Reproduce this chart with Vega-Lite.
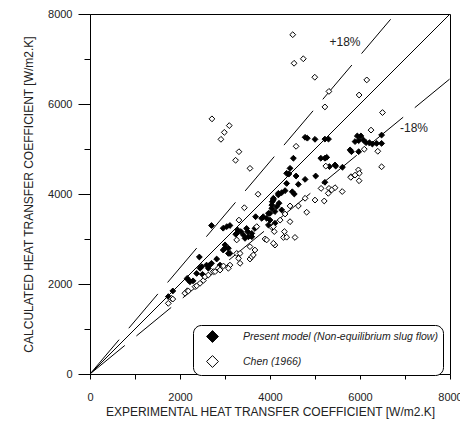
{
"$schema":"https://vega.github.io/schema/vega-lite/v6.json",
"width":360,"height":360,
"autosize":{"type":"none"},
"padding":{"left":90,"top":14,"right":10,"bottom":47},
"background":"white",
"config":{
 "font":"Liberation Sans",
 "view":{"stroke":"black","strokeWidth":1},
 "axis":{"domainColor":"black","tickColor":"black","labelColor":"#222","titleColor":"#222","labelFontSize":11,"titleFontSize":12,"titleFontWeight":"normal","grid":false,"labelFont":"Liberation Sans","titleFont":"Liberation Sans","labelFlush":false,"labelOverlap":false}
},
"datasets":{
 "lines":[
  {"x":0,"y":0,"k":"eq"},{"x":8000,"y":8000,"k":"eq"},
  {"x":0,"y":0,"k":"p18"},{"x":6780,"y":8000,"k":"p18"},
  {"x":0,"y":0,"k":"m18"},{"x":8000,"y":6560,"k":"m18"}
 ],
 "notes":[
  {"x":5667,"y":7378,"t":"+18%"},
  {"x":7200,"y":5467,"t":"-18%"}
 ],
 "pts":[
  {"x":1740,"y":1720,"s":"Present model (Non-equilibrium slug flow)"},
  {"x":1840,"y":1845,"s":"Present model (Non-equilibrium slug flow)"},
  {"x":2160,"y":2125,"s":"Present model (Non-equilibrium slug flow)"},
  {"x":2185,"y":2090,"s":"Present model (Non-equilibrium slug flow)"},
  {"x":2220,"y":2050,"s":"Present model (Non-equilibrium slug flow)"},
  {"x":2290,"y":2070,"s":"Present model (Non-equilibrium slug flow)"},
  {"x":2370,"y":2235,"s":"Present model (Non-equilibrium slug flow)"},
  {"x":2430,"y":2600,"s":"Present model (Non-equilibrium slug flow)"},
  {"x":2445,"y":2350,"s":"Present model (Non-equilibrium slug flow)"},
  {"x":2480,"y":2385,"s":"Present model (Non-equilibrium slug flow)"},
  {"x":2500,"y":2215,"s":"Present model (Non-equilibrium slug flow)"},
  {"x":2590,"y":2420,"s":"Present model (Non-equilibrium slug flow)"},
  {"x":2630,"y":2350,"s":"Present model (Non-equilibrium slug flow)"},
  {"x":2660,"y":2420,"s":"Present model (Non-equilibrium slug flow)"},
  {"x":2700,"y":2460,"s":"Present model (Non-equilibrium slug flow)"},
  {"x":2815,"y":2555,"s":"Present model (Non-equilibrium slug flow)"},
  {"x":2890,"y":2420,"s":"Present model (Non-equilibrium slug flow)"},
  {"x":2960,"y":2755,"s":"Present model (Non-equilibrium slug flow)"},
  {"x":3000,"y":2870,"s":"Present model (Non-equilibrium slug flow)"},
  {"x":3000,"y":2795,"s":"Present model (Non-equilibrium slug flow)"},
  {"x":3075,"y":2795,"s":"Present model (Non-equilibrium slug flow)"},
  {"x":3075,"y":2680,"s":"Present model (Non-equilibrium slug flow)"},
  {"x":3110,"y":2680,"s":"Present model (Non-equilibrium slug flow)"},
  {"x":2700,"y":3300,"s":"Present model (Non-equilibrium slug flow)"},
  {"x":2960,"y":3240,"s":"Present model (Non-equilibrium slug flow)"},
  {"x":3040,"y":3275,"s":"Present model (Non-equilibrium slug flow)"},
  {"x":3110,"y":3300,"s":"Present model (Non-equilibrium slug flow)"},
  {"x":3240,"y":3105,"s":"Present model (Non-equilibrium slug flow)"},
  {"x":3260,"y":3125,"s":"Present model (Non-equilibrium slug flow)"},
  {"x":3280,"y":3200,"s":"Present model (Non-equilibrium slug flow)"},
  {"x":3355,"y":3165,"s":"Present model (Non-equilibrium slug flow)"},
  {"x":3410,"y":3090,"s":"Present model (Non-equilibrium slug flow)"},
  {"x":3445,"y":3015,"s":"Present model (Non-equilibrium slug flow)"},
  {"x":3480,"y":3235,"s":"Present model (Non-equilibrium slug flow)"},
  {"x":3505,"y":3165,"s":"Present model (Non-equilibrium slug flow)"},
  {"x":3520,"y":3050,"s":"Present model (Non-equilibrium slug flow)"},
  {"x":3595,"y":3125,"s":"Present model (Non-equilibrium slug flow)"},
  {"x":3595,"y":3050,"s":"Present model (Non-equilibrium slug flow)"},
  {"x":3665,"y":3235,"s":"Present model (Non-equilibrium slug flow)"},
  {"x":3680,"y":3495,"s":"Present model (Non-equilibrium slug flow)"},
  {"x":3815,"y":3460,"s":"Present model (Non-equilibrium slug flow)"},
  {"x":3850,"y":3495,"s":"Present model (Non-equilibrium slug flow)"},
  {"x":3925,"y":3460,"s":"Present model (Non-equilibrium slug flow)"},
  {"x":3965,"y":3310,"s":"Present model (Non-equilibrium slug flow)"},
  {"x":4000,"y":3420,"s":"Present model (Non-equilibrium slug flow)"},
  {"x":3965,"y":3570,"s":"Present model (Non-equilibrium slug flow)"},
  {"x":4000,"y":3570,"s":"Present model (Non-equilibrium slug flow)"},
  {"x":4040,"y":3680,"s":"Present model (Non-equilibrium slug flow)"},
  {"x":4110,"y":3350,"s":"Present model (Non-equilibrium slug flow)"},
  {"x":4110,"y":3610,"s":"Present model (Non-equilibrium slug flow)"},
  {"x":4150,"y":3720,"s":"Present model (Non-equilibrium slug flow)"},
  {"x":4040,"y":3755,"s":"Present model (Non-equilibrium slug flow)"},
  {"x":4075,"y":3870,"s":"Present model (Non-equilibrium slug flow)"},
  {"x":4200,"y":3795,"s":"Present model (Non-equilibrium slug flow)"},
  {"x":4260,"y":3645,"s":"Present model (Non-equilibrium slug flow)"},
  {"x":4050,"y":3830,"s":"Present model (Non-equilibrium slug flow)"},
  {"x":4075,"y":3905,"s":"Present model (Non-equilibrium slug flow)"},
  {"x":4185,"y":3980,"s":"Present model (Non-equilibrium slug flow)"},
  {"x":4185,"y":4015,"s":"Present model (Non-equilibrium slug flow)"},
  {"x":4260,"y":4030,"s":"Present model (Non-equilibrium slug flow)"},
  {"x":4335,"y":4075,"s":"Present model (Non-equilibrium slug flow)"},
  {"x":4495,"y":4050,"s":"Present model (Non-equilibrium slug flow)"},
  {"x":4540,"y":4000,"s":"Present model (Non-equilibrium slug flow)"},
  {"x":4370,"y":4235,"s":"Present model (Non-equilibrium slug flow)"},
  {"x":4630,"y":4215,"s":"Present model (Non-equilibrium slug flow)"},
  {"x":4370,"y":4460,"s":"Present model (Non-equilibrium slug flow)"},
  {"x":4420,"y":4445,"s":"Present model (Non-equilibrium slug flow)"},
  {"x":4580,"y":4400,"s":"Present model (Non-equilibrium slug flow)"},
  {"x":4445,"y":4570,"s":"Present model (Non-equilibrium slug flow)"},
  {"x":4780,"y":4325,"s":"Present model (Non-equilibrium slug flow)"},
  {"x":5015,"y":4400,"s":"Present model (Non-equilibrium slug flow)"},
  {"x":5220,"y":4260,"s":"Present model (Non-equilibrium slug flow)"},
  {"x":4520,"y":4795,"s":"Present model (Non-equilibrium slug flow)"},
  {"x":4780,"y":5260,"s":"Present model (Non-equilibrium slug flow)"},
  {"x":4830,"y":5240,"s":"Present model (Non-equilibrium slug flow)"},
  {"x":5000,"y":5215,"s":"Present model (Non-equilibrium slug flow)"},
  {"x":5220,"y":5220,"s":"Present model (Non-equilibrium slug flow)"},
  {"x":5300,"y":5220,"s":"Present model (Non-equilibrium slug flow)"},
  {"x":5130,"y":4795,"s":"Present model (Non-equilibrium slug flow)"},
  {"x":5220,"y":4795,"s":"Present model (Non-equilibrium slug flow)"},
  {"x":5260,"y":4815,"s":"Present model (Non-equilibrium slug flow)"},
  {"x":5320,"y":4610,"s":"Present model (Non-equilibrium slug flow)"},
  {"x":5460,"y":4620,"s":"Present model (Non-equilibrium slug flow)"},
  {"x":5610,"y":4595,"s":"Present model (Non-equilibrium slug flow)"},
  {"x":5445,"y":4645,"s":"Present model (Non-equilibrium slug flow)"},
  {"x":5780,"y":4980,"s":"Present model (Non-equilibrium slug flow)"},
  {"x":5810,"y":4940,"s":"Present model (Non-equilibrium slug flow)"},
  {"x":5970,"y":4940,"s":"Present model (Non-equilibrium slug flow)"},
  {"x":5890,"y":5165,"s":"Present model (Non-equilibrium slug flow)"},
  {"x":5940,"y":5290,"s":"Present model (Non-equilibrium slug flow)"},
  {"x":6020,"y":5290,"s":"Present model (Non-equilibrium slug flow)"},
  {"x":5970,"y":5185,"s":"Present model (Non-equilibrium slug flow)"},
  {"x":6075,"y":5200,"s":"Present model (Non-equilibrium slug flow)"},
  {"x":6135,"y":5140,"s":"Present model (Non-equilibrium slug flow)"},
  {"x":6210,"y":5140,"s":"Present model (Non-equilibrium slug flow)"},
  {"x":6275,"y":5110,"s":"Present model (Non-equilibrium slug flow)"},
  {"x":6370,"y":5125,"s":"Present model (Non-equilibrium slug flow)"},
  {"x":6480,"y":5125,"s":"Present model (Non-equilibrium slug flow)"},
  {"x":6480,"y":5310,"s":"Present model (Non-equilibrium slug flow)"},
  {"x":1740,"y":1570,"s":"Chen (1966)"},
  {"x":1815,"y":1680,"s":"Chen (1966)"},
  {"x":1840,"y":1665,"s":"Chen (1966)"},
  {"x":2110,"y":1795,"s":"Chen (1966)"},
  {"x":2165,"y":1850,"s":"Chen (1966)"},
  {"x":2185,"y":1845,"s":"Chen (1966)"},
  {"x":2335,"y":1940,"s":"Chen (1966)"},
  {"x":2370,"y":1960,"s":"Chen (1966)"},
  {"x":2445,"y":2015,"s":"Chen (1966)"},
  {"x":2520,"y":2080,"s":"Chen (1966)"},
  {"x":2555,"y":2160,"s":"Chen (1966)"},
  {"x":2630,"y":2200,"s":"Chen (1966)"},
  {"x":2740,"y":2275,"s":"Chen (1966)"},
  {"x":2780,"y":2275,"s":"Chen (1966)"},
  {"x":2850,"y":2350,"s":"Chen (1966)"},
  {"x":2890,"y":2310,"s":"Chen (1966)"},
  {"x":2965,"y":2400,"s":"Chen (1966)"},
  {"x":3075,"y":2385,"s":"Chen (1966)"},
  {"x":3110,"y":2420,"s":"Chen (1966)"},
  {"x":3075,"y":2350,"s":"Chen (1966)"},
  {"x":3260,"y":2680,"s":"Chen (1966)"},
  {"x":3300,"y":2570,"s":"Chen (1966)"},
  {"x":3335,"y":2460,"s":"Chen (1966)"},
  {"x":3335,"y":2680,"s":"Chen (1966)"},
  {"x":3555,"y":2555,"s":"Chen (1966)"},
  {"x":3595,"y":2605,"s":"Chen (1966)"},
  {"x":3630,"y":2645,"s":"Chen (1966)"},
  {"x":3555,"y":2830,"s":"Chen (1966)"},
  {"x":3665,"y":2755,"s":"Chen (1966)"},
  {"x":3705,"y":3275,"s":"Chen (1966)"},
  {"x":3260,"y":2980,"s":"Chen (1966)"},
  {"x":3310,"y":3420,"s":"Chen (1966)"},
  {"x":3430,"y":3695,"s":"Chen (1966)"},
  {"x":3735,"y":3995,"s":"Chen (1966)"},
  {"x":3890,"y":3000,"s":"Chen (1966)"},
  {"x":3925,"y":2980,"s":"Chen (1966)"},
  {"x":4040,"y":3260,"s":"Chen (1966)"},
  {"x":4075,"y":3275,"s":"Chen (1966)"},
  {"x":4110,"y":2865,"s":"Chen (1966)"},
  {"x":4075,"y":2905,"s":"Chen (1966)"},
  {"x":4095,"y":3165,"s":"Chen (1966)"},
  {"x":4300,"y":3035,"s":"Chen (1966)"},
  {"x":4370,"y":3040,"s":"Chen (1966)"},
  {"x":4555,"y":3035,"s":"Chen (1966)"},
  {"x":4320,"y":3165,"s":"Chen (1966)"},
  {"x":4225,"y":3420,"s":"Chen (1966)"},
  {"x":4445,"y":3385,"s":"Chen (1966)"},
  {"x":4335,"y":3555,"s":"Chen (1966)"},
  {"x":4445,"y":3735,"s":"Chen (1966)"},
  {"x":4630,"y":3735,"s":"Chen (1966)"},
  {"x":4815,"y":3595,"s":"Chen (1966)"},
  {"x":4780,"y":3905,"s":"Chen (1966)"},
  {"x":5000,"y":3865,"s":"Chen (1966)"},
  {"x":5205,"y":3845,"s":"Chen (1966)"},
  {"x":5135,"y":4125,"s":"Chen (1966)"},
  {"x":5310,"y":4125,"s":"Chen (1966)"},
  {"x":5295,"y":4015,"s":"Chen (1966)"},
  {"x":5445,"y":4140,"s":"Chen (1966)"},
  {"x":5370,"y":4090,"s":"Chen (1966)"},
  {"x":5605,"y":4055,"s":"Chen (1966)"},
  {"x":5800,"y":4385,"s":"Chen (1966)"},
  {"x":5890,"y":4420,"s":"Chen (1966)"},
  {"x":5795,"y":4370,"s":"Chen (1966)"},
  {"x":5965,"y":4535,"s":"Chen (1966)"},
  {"x":5985,"y":4460,"s":"Chen (1966)"},
  {"x":5980,"y":4295,"s":"Chen (1966)"},
  {"x":6095,"y":4995,"s":"Chen (1966)"},
  {"x":6395,"y":4950,"s":"Chen (1966)"},
  {"x":6480,"y":4605,"s":"Chen (1966)"},
  {"x":5240,"y":4620,"s":"Chen (1966)"},
  {"x":6245,"y":5420,"s":"Chen (1966)"},
  {"x":6500,"y":5810,"s":"Chen (1966)"},
  {"x":5980,"y":6200,"s":"Chen (1966)"},
  {"x":6150,"y":6535,"s":"Chen (1966)"},
  {"x":4505,"y":7540,"s":"Chen (1966)"},
  {"x":4535,"y":6905,"s":"Chen (1966)"},
  {"x":4740,"y":7005,"s":"Chen (1966)"},
  {"x":4995,"y":6595,"s":"Chen (1966)"},
  {"x":5310,"y":6280,"s":"Chen (1966)"},
  {"x":5220,"y":5935,"s":"Chen (1966)"},
  {"x":4580,"y":5060,"s":"Chen (1966)"},
  {"x":2710,"y":5670,"s":"Chen (1966)"},
  {"x":3095,"y":5520,"s":"Chen (1966)"},
  {"x":2985,"y":5370,"s":"Chen (1966)"},
  {"x":2910,"y":5215,"s":"Chen (1966)"},
  {"x":3310,"y":4940,"s":"Chen (1966)"},
  {"x":3235,"y":4750,"s":"Chen (1966)"},
  {"x":3555,"y":4570,"s":"Chen (1966)"}
 ]
},
"layer":[
 {
  "data":{"name":"lines"},
  "transform":[{"filter":"datum.k == 'eq'"}],
  "mark":{"type":"line","color":"black","strokeWidth":1,"clip":true},
  "encoding":{
   "x":{"field":"x","type":"quantitative","scale":{"domain":[0,8000],"nice":false},
        "axis":{"values":[0,1000,2000,3000,4000,5000,6000,7000,8000],"tickSize":5,"format":"d","labelExpr":"datum.value % 2000 === 0 ? datum.label : ''","labelPadding":12,"title":"EXPERIMENTAL HEAT TRANSFER COEFFICIENT [W/m2.K]","titlePadding":4}},
   "y":{"field":"y","type":"quantitative","scale":{"domain":[0,8000],"nice":false},
        "axis":{"orient":"left","values":[1000,3000,5000,7000],"tickSize":6,"labels":false,"domain":false,"title":null}}
  }
 },
 {
  "encoding":{
   "x":{"field":"x","type":"quantitative","scale":{"domain":[0,8000],"nice":false},
        "axis":{"values":[0,1000,2000,3000,4000,5000,6000,7000,8000],"tickSize":5,"format":"d","labelExpr":"datum.value % 2000 === 0 ? datum.label : ''","labelPadding":12,"title":"EXPERIMENTAL HEAT TRANSFER COEFFICIENT [W/m2.K]","titlePadding":4}},
   "y":{"field":"y","type":"quantitative","scale":{"domain":[0,8000],"nice":false},
        "axis":{"orient":"left","values":[0,2000,4000,6000,8000],"tickSize":12,"labelPadding":6,"format":"d","title":"CALCULATED HEAT TRANSFER COEFFICIENT [W/m2.K]","titlePadding":12}}
  },
  "layer":[
   {
    "data":{"name":"lines"},
    "transform":[{"filter":"datum.k != 'eq'"}],
    "mark":{"type":"line","color":"black","strokeWidth":1,"strokeDash":[45,15],"clip":true},
    "encoding":{"detail":{"field":"k"}}
   },
   {
    "data":{"name":"pts"},
    "mark":{"type":"point","shape":"diamond","filled":true,"stroke":"black","strokeWidth":1,"size":34,"opacity":1},
    "encoding":{
     "fill":{"field":"s","type":"nominal","scale":{"domain":["Present model (Non-equilibrium slug flow)","Chen (1966)"],"range":["black","white"]},
       "legend":{"orient":"none","legendX":103,"legendY":311,"title":null,"symbolType":"diamond","symbolSize":140,"symbolStrokeColor":"black","symbolStrokeWidth":1,"labelFontStyle":"italic","labelFontSize":10.5,"labelLimit":400,"labelColor":"#222","strokeColor":"black","fillColor":"white","cornerRadius":8,"padding":5,"rowPadding":8,"symbolOffset":8,"labelOffset":24,"direction":"vertical"}}
    }
   },
   {
    "data":{"name":"notes"},
    "mark":{"type":"text","fontSize":12,"color":"#222","align":"center","baseline":"middle"},
    "encoding":{"text":{"field":"t"}}
   }
  ]
 }
],
"resolve":{"axis":{"y":"independent"}}
}
